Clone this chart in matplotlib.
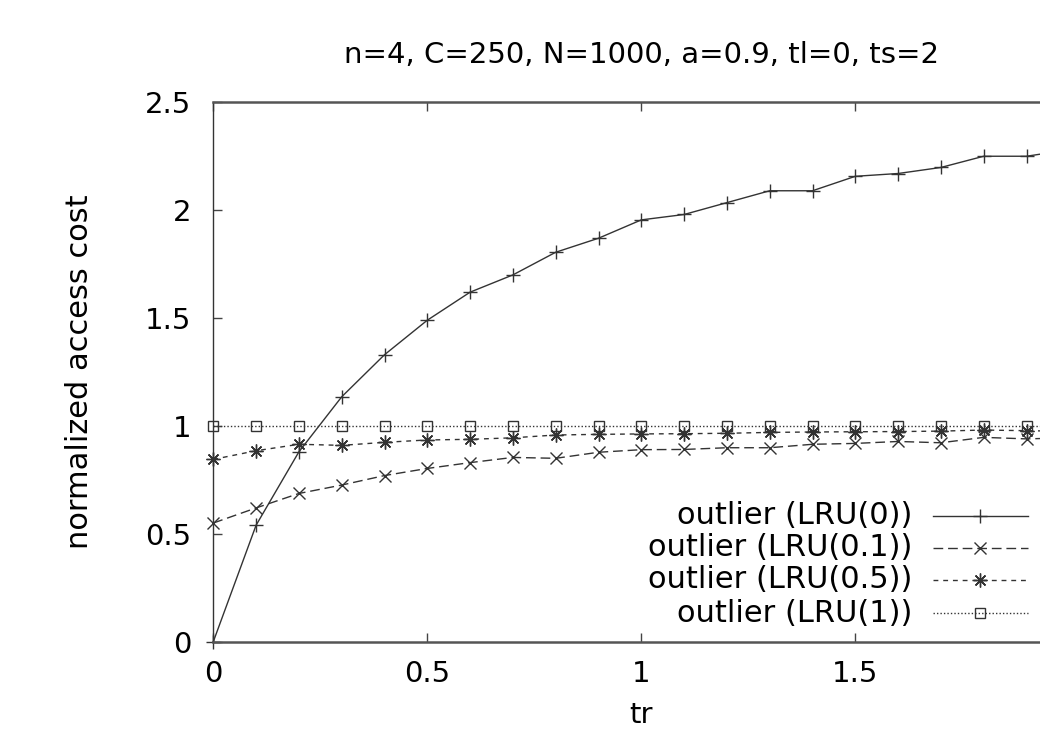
import matplotlib
matplotlib.use("Agg")
import matplotlib.pyplot as plt
from matplotlib.lines import Line2D

# ---- data ----
tr = [0.0, 0.1, 0.2, 0.3, 0.4, 0.5, 0.6, 0.7, 0.8, 0.9, 1.0,
      1.1, 1.2, 1.3, 1.4, 1.5, 1.6, 1.7, 1.8, 1.9, 2.0]
lru_0 = [0.0, 0.54, 0.88, 1.135, 1.33, 1.49, 1.62, 1.70, 1.805, 1.87, 1.955,
         1.98, 2.035, 2.09, 2.09, 2.157, 2.17, 2.198, 2.25, 2.25, 2.28]
lru_01 = [0.55, 0.62, 0.687, 0.726, 0.77, 0.803, 0.83, 0.854, 0.85, 0.878, 0.89,
          0.891, 0.899, 0.899, 0.915, 0.919, 0.928, 0.922, 0.947, 0.94, 0.945]
lru_05 = [0.845, 0.885, 0.915, 0.91, 0.924, 0.935, 0.938, 0.945, 0.958, 0.961, 0.963,
          0.964, 0.966, 0.97, 0.972, 0.973, 0.974, 0.976, 0.981, 0.978, 0.975]
lru_1 = [1.0, 1.0, 1.0, 1.0, 1.0, 1.0, 1.0, 1.0, 1.0, 1.0, 1.0,
         1.0, 1.0, 1.0, 1.0, 1.0, 1.0, 1.0, 1.0, 1.0, 1.0]
labels = ["outlier (LRU(0))", "outlier (LRU(0.1))", "outlier (LRU(0.5))", "outlier (LRU(1))"]
title = "n=4, C=250, N=1000, a=0.9, tl=0, ts=2"
xlabel = "tr"
ylabel = "normalized access cost"
xticks = [0, 0.5, 1, 1.5]
xticklabels = ["0", "0.5", "1", "1.5"]
yticks = [0, 0.5, 1, 1.5, 2, 2.5]
yticklabels = ["0", "0.5", "1", "1.5", "2", "2.5"]

plt.rcParams['font.family'] = ['DejaVu Sans']
FS = 21
FS_LEG = 22
W, H = 1040, 731
fig = plt.figure(figsize=(W / 100, H / 100), dpi=100)
fig.patch.set_facecolor('white')

# axes in pixel geometry (right part extends beyond the figure: cropped)
left_px, right_px, top_px, bottom_px = 213.3, 1069.3, 102.3, 641.7
ax = fig.add_axes([left_px / W, 1 - bottom_px / H,
                   (right_px - left_px) / W, (bottom_px - top_px) / H])
ax.set_xlim(0, 2)
ax.set_ylim(0, 2.5)

lc = '#333333'
lw = 1.0
styles = [
    dict(linestyle='-', marker='+', ms=10, mew=1.0),
    dict(linestyle=(0, (7, 3.5)), marker='x', ms=8, mew=1.0),
    dict(linestyle=(0, (3.5, 3.5)), marker=(8, 2, 0), ms=10, mew=1.0),
    dict(linestyle=(0, (1, 1.5)), marker='s', ms=7, mew=1.0, mfc='none'),
]
series = [lru_0, lru_01, lru_05, lru_1]
for ys, st in zip(series, styles):
    ax.plot(tr, ys, color=lc, lw=lw, mec=lc, clip_on=False, **st)

ax.set_xticks(xticks)
ax.set_xticklabels(xticklabels)
ax.set_yticks(yticks)
ax.set_yticklabels(yticklabels)
ax.tick_params(direction='in', length=6.5, width=1.0, color='#444444',
               labelsize=FS, top=True, right=True, pad=16)
ax.tick_params(axis='x', pad=13)
for s in ['top', 'bottom']:
    ax.spines[s].set_linewidth(1.8)
    ax.spines[s].set_color('#555555')
for s in ['left', 'right']:
    ax.spines[s].set_linewidth(1.0)
    ax.spines[s].set_color('#333333')

# title and axis labels
fig.text((left_px + right_px) / 2 / W, 1 - 63 / H, title, ha='center', va='baseline',
         fontsize=FS)
fig.text(80 / W, 1 - ((top_px + bottom_px) / 2) / H, ylabel, rotation=90,
         ha='center', va='center', fontsize=FS_LEG)
fig.text((left_px + right_px) / 2 / W, 1 - 723 / H, xlabel, ha='center', va='baseline',
         fontsize=FS)

# legend (manually placed, right-aligned labels, samples on the right)
row_y = [516, 548, 580, 613]
for lab, st, yp in zip(labels, styles, row_y):
    yf = 1 - yp / H
    fig.text(912 / W, yf, lab, ha='right', va='center', fontsize=FS_LEG)
    fig.add_artist(Line2D([933 / W, 1028 / W], [yf, yf], color=lc, lw=lw,
                          linestyle=st['linestyle'], transform=fig.transFigure))
    mk = {k: v for k, v in st.items() if k != 'linestyle'}
    fig.add_artist(Line2D([980 / W], [yf], color=lc, mec=lc, linestyle='none',
                          transform=fig.transFigure, **mk))

fig.savefig('out.png', dpi=100, facecolor='white')
